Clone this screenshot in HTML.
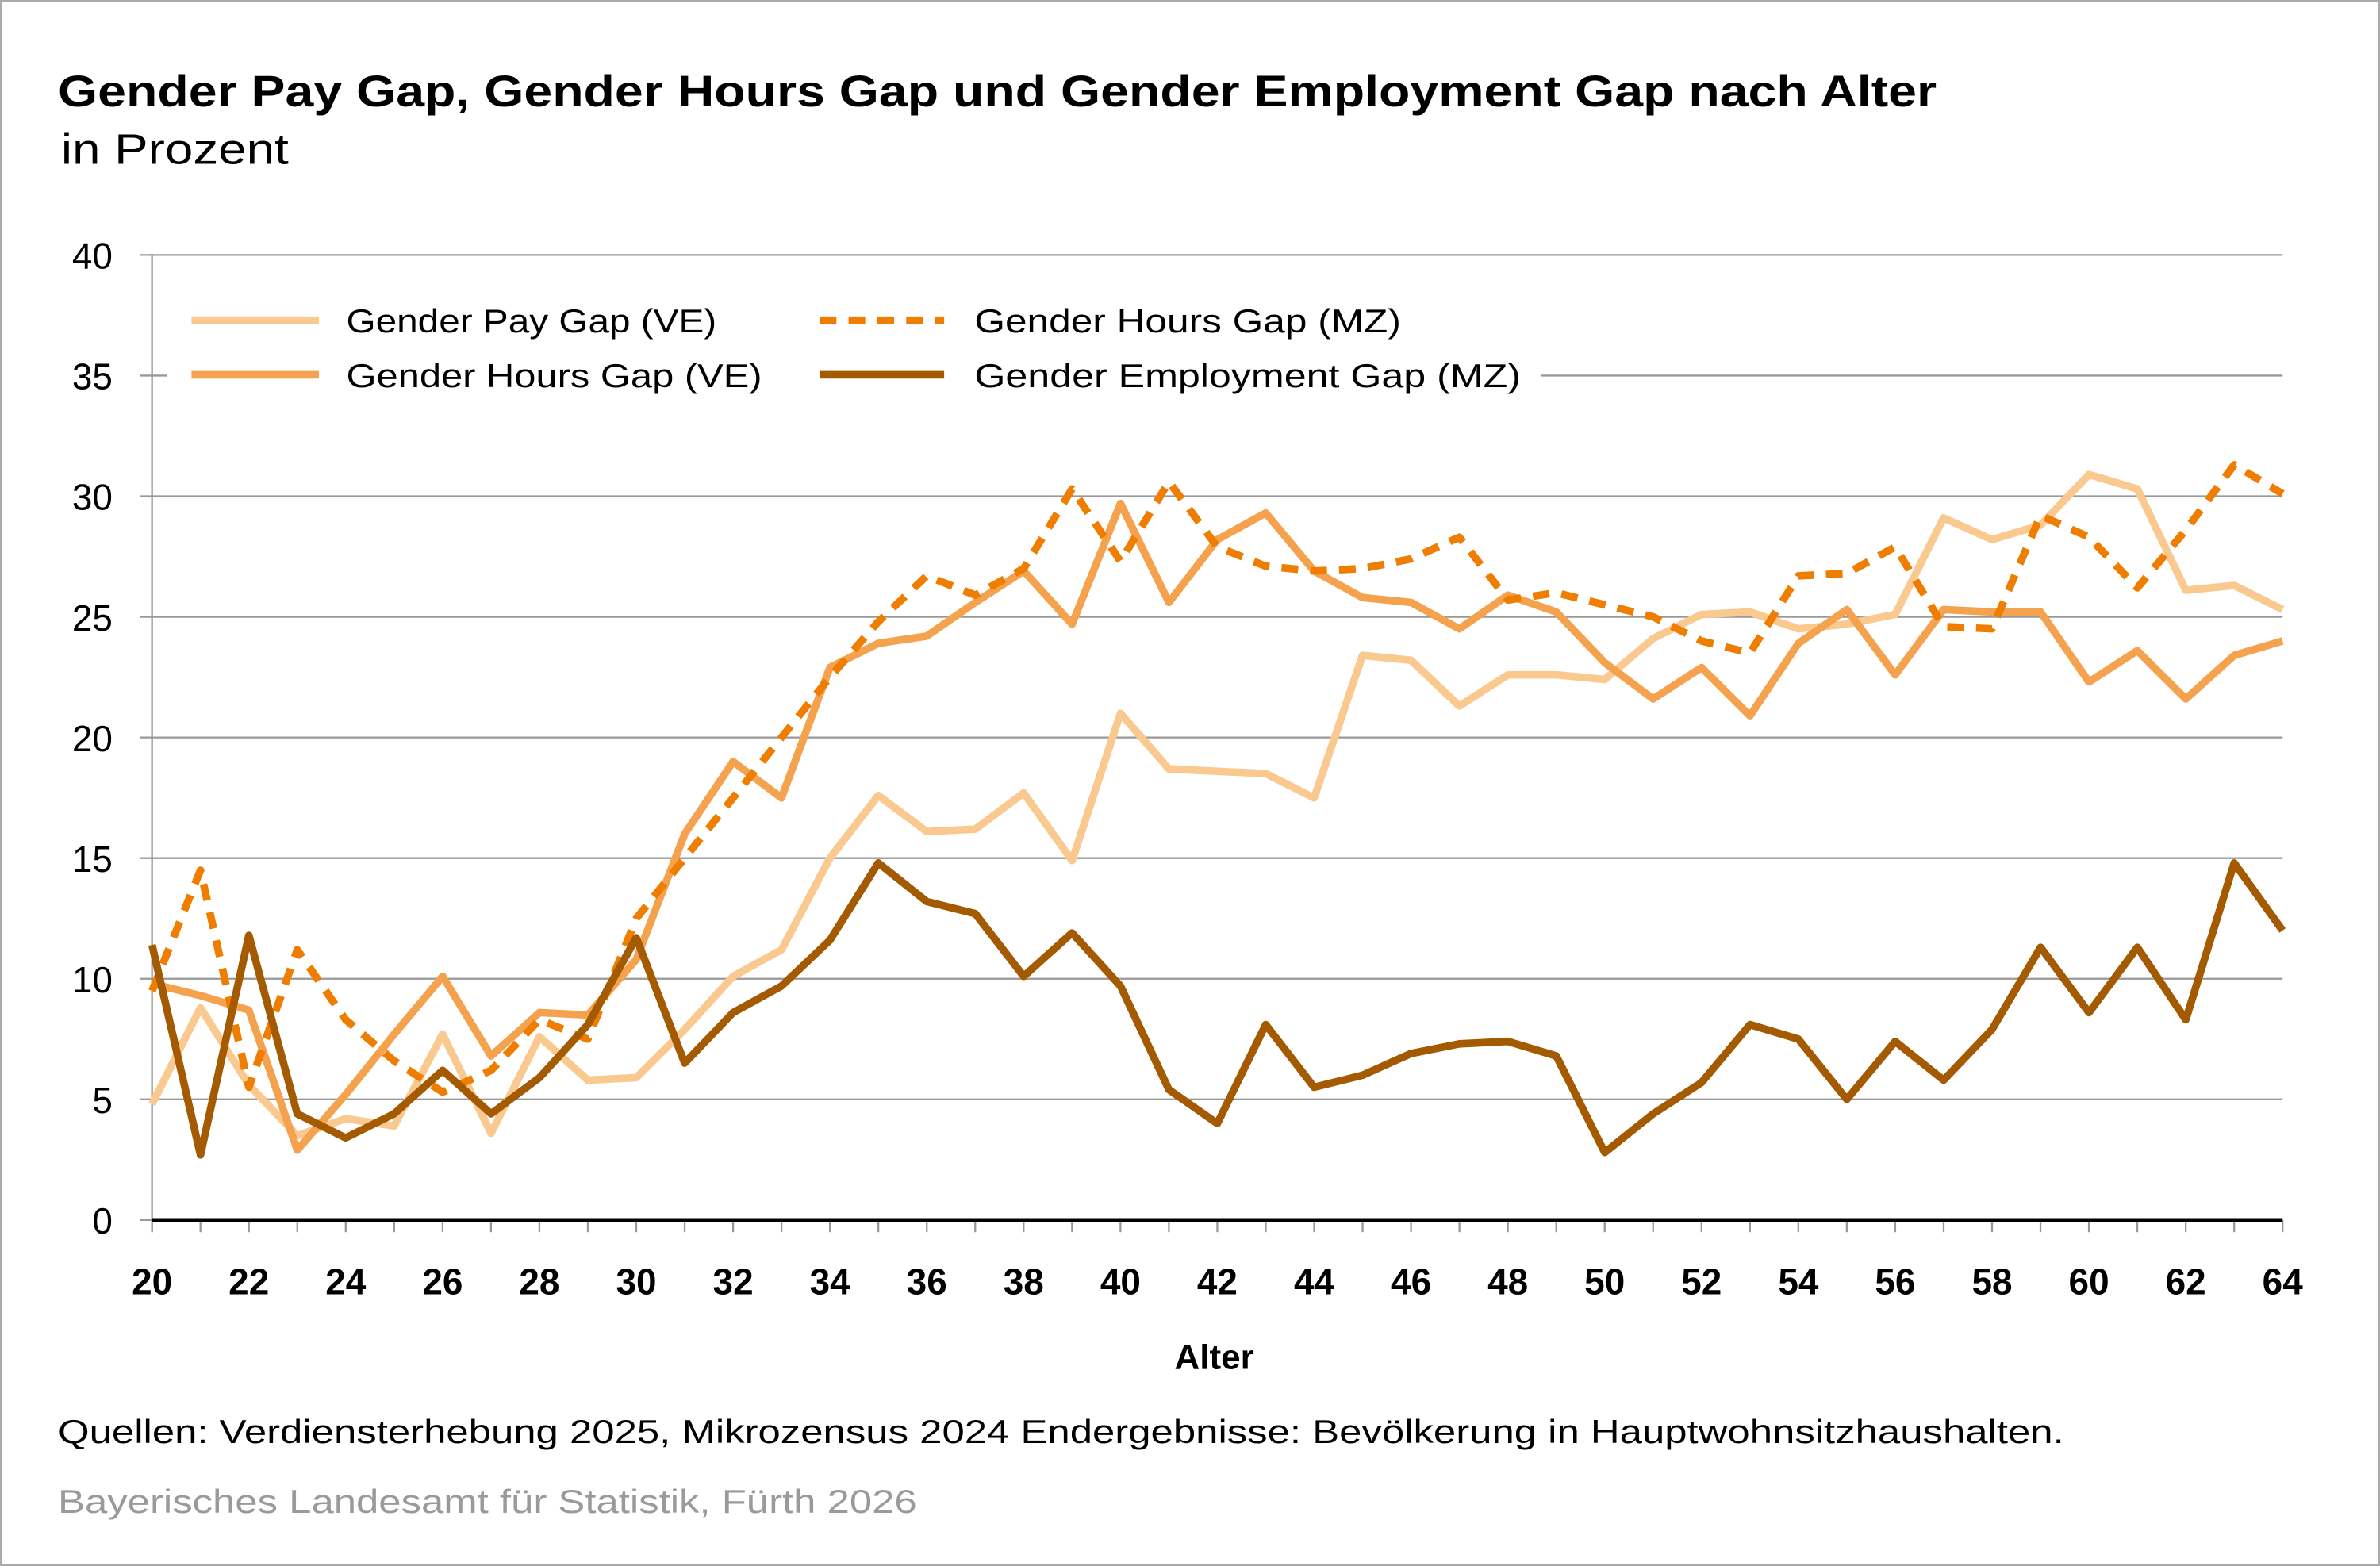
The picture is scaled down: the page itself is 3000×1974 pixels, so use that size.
<!DOCTYPE html>
<html><head><meta charset="utf-8"><style>
html,body{margin:0;padding:0;background:#fff}
svg{display:block}
text{font-family:"Liberation Sans",Arial,sans-serif}
</style></head><body>
<svg id="s" width="3000" height="1974" viewBox="0 0 1568 1032" xmlns="http://www.w3.org/2000/svg">
<rect x="0.5" y="0.5" width="1567" height="1031" fill="#fff" stroke="#aaa" stroke-width="1.5"/>
<text x="38" y="70" font-size="29" font-weight="bold" fill="#000" textLength="1238" lengthAdjust="spacingAndGlyphs">Gender Pay Gap, Gender Hours Gap und Gender Employment Gap nach Alter</text>
<text x="40" y="108" font-size="28" fill="#000" textLength="150" lengthAdjust="spacingAndGlyphs">in Prozent</text>
<g id="grid"></g>
<g id="series"></g>
<rect x="110" y="186" width="905" height="80" fill="#fff"/>
<line x1="126" y1="211" x2="210" y2="211" stroke="#f9c98f" stroke-width="5"/>
<line x1="126" y1="247" x2="210" y2="247" stroke="#f4a24e" stroke-width="5"/>
<line x1="540" y1="211" x2="622" y2="211" stroke="#ee7d00" stroke-width="5" stroke-dasharray="11,8"/>
<line x1="540" y1="247" x2="622" y2="247" stroke="#a35a00" stroke-width="5"/>
<text x="228" y="219" font-size="22" textLength="244" lengthAdjust="spacingAndGlyphs">Gender Pay Gap (VE)</text>
<text x="228" y="255" font-size="22" textLength="274" lengthAdjust="spacingAndGlyphs">Gender Hours Gap (VE)</text>
<text x="642" y="219" font-size="22" textLength="281" lengthAdjust="spacingAndGlyphs">Gender Hours Gap (MZ)</text>
<text x="642" y="255" font-size="22" textLength="360" lengthAdjust="spacingAndGlyphs">Gender Employment Gap (MZ)</text>
<text x="800" y="902" font-size="23" font-weight="bold" text-anchor="middle">Alter</text>
<text x="38" y="951" font-size="22" textLength="1322" lengthAdjust="spacingAndGlyphs">Quellen: Verdiensterhebung 2025, Mikrozensus 2024 Endergebnisse: Bevölkerung in Hauptwohnsitzhaushalten.</text>
<text x="38" y="997" font-size="22" fill="#9a9a9a" textLength="566" lengthAdjust="spacingAndGlyphs">Bayerisches Landesamt für Statistik, Fürth 2026</text>
</svg>
<script>
const NS="http://www.w3.org/2000/svg";
const X=a=>100+(a-20)*1404/44, Y=v=>804-v*15.9;
const g=document.getElementById('grid'), s=document.getElementById('series');
function el(p,tag,attrs,txt){const e=document.createElementNS(NS,tag);for(const k in attrs)e.setAttribute(k,attrs[k]);if(txt!==undefined)e.textContent=txt;p.appendChild(e);return e;}
for(let v=5;v<=40;v+=5){el(g,'line',{x1:92,x2:1504,y1:Y(v),y2:Y(v),stroke:'#999','stroke-width':1.2});}
for(let v=0;v<=40;v+=5){el(g,'text',{x:74,y:Y(v)+9,'font-size':24,'text-anchor':'end'},String(v));}
el(g,'line',{x1:92,x2:100,y1:804,y2:804,stroke:'#999','stroke-width':1.2});
el(g,'line',{x1:100,x2:100,y1:168,y2:812,stroke:'#999','stroke-width':1.2});
for(let a=20;a<=64;a++){el(g,'line',{x1:X(a),x2:X(a),y1:804,y2:812,stroke:'#999','stroke-width':1.2});
 if(a%2==0)el(g,'text',{x:X(a),y:853,'font-size':24,'font-weight':'bold','text-anchor':'middle'},String(a));}
el(g,'line',{x1:100,x2:1504,y1:804,y2:804,stroke:'#000','stroke-width':2.5});
const pay=[4.8,8.8,5.6,3.5,4.2,3.9,7.7,3.6,7.6,5.8,5.9,7.9,10.1,11.2,15,17.6,16.1,16.2,17.7,14.9,21,18.7,18.6,18.5,17.5,23.4,23.2,21.3,22.6,22.6,22.4,24.1,25.1,25.2,24.5,24.7,25.1,29.1,28.2,28.8,30.9,30.3,26.1,26.3,25.3];
const hve=[9.8,9.3,8.7,2.9,5.2,7.7,10.1,6.8,8.6,8.5,10.8,16,19,17.5,22.9,23.9,24.2,25.6,26.9,24.7,29.7,25.6,28.2,29.3,26.9,25.8,25.6,24.5,25.9,25.2,23.1,21.6,22.9,20.9,23.9,25.3,22.6,25.3,25.2,25.2,22.3,23.6,21.6,23.4,24];
const hmz=[9.5,14.5,5.5,11.2,8.3,6.6,5.3,6.2,8.3,7.5,12.5,15,17.5,20,22.5,24.8,26.7,25.9,27,30.3,27.3,30.6,27.9,27.1,26.9,27,27.4,28.3,25.7,26,25.5,25,24,23.5,26.7,26.8,27.9,24.6,24.5,29.2,28.3,26.2,28.6,31.3,30.1];
const emp=[11.4,2.7,11.8,4.4,3.4,4.4,6.2,4.4,5.9,8.1,11.7,6.5,8.6,9.7,11.6,14.8,13.2,12.7,10.1,11.9,9.7,5.4,4,8.1,5.5,6,6.9,7.3,7.4,6.8,2.8,4.4,5.7,8.1,7.5,5,7.4,5.8,7.9,11.3,8.6,11.3,8.3,14.8,12];
function line(d,c,dash){const pts=d.map((v,i)=>X(20+i).toFixed(1)+','+Y(v).toFixed(1)).join(' ');
 const a={points:pts,fill:'none',stroke:c,'stroke-width':5,'stroke-linejoin':'round'};if(dash)a['stroke-dasharray']=dash;el(s,'polyline',a);}
line(pay,'#f9c98f');line(hve,'#f4a24e');line(hmz,'#ee7d00','11,8');line(emp,'#a35a00');
</script>
</body></html>
